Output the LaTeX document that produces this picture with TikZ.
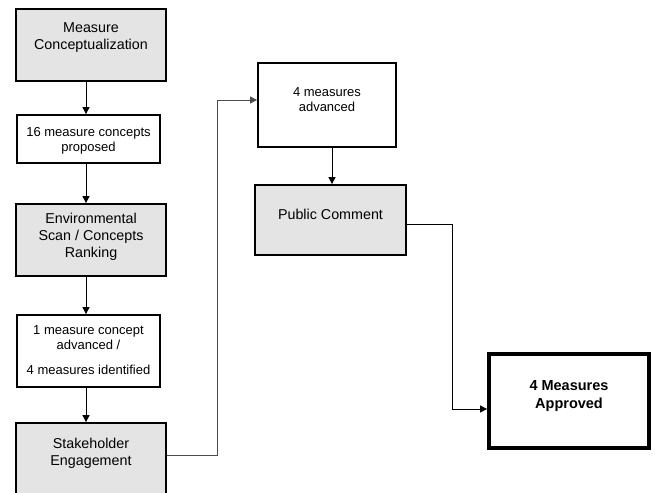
\documentclass[tikz,border=0pt]{standalone}
\usepackage{fontspec}
\setmainfont{Liberation Sans}
\usetikzlibrary{arrows.meta}
\definecolor{boxgray}{HTML}{E4E4E4}
\begin{document}
\begin{tikzpicture}[x=1pt,y=-1pt,
  graybox/.style={draw=black,line width=1.8pt,fill=boxgray,rectangle,inner sep=0pt},
  whitebox/.style={draw=black,line width=1.8pt,fill=white,rectangle,inner sep=0pt},
  bigtxt/.style={font=\fontsize{14.3}{17}\selectfont,align=center,inner sep=0pt},
  smalltxt/.style={font=\fontsize{13}{15}\selectfont,align=center,inner sep=0pt},
  arr/.style={draw=black,line width=0.9pt,-{Triangle[length=7pt,width=7pt]}},
  conn/.style={draw=black!70,line width=0.9pt,-{Triangle[length=7pt,width=7pt]}}]
\useasboundingbox (0,0) rectangle (655,492);
\clip (0,0) rectangle (655,492);
% boxes
\node[graybox,minimum width=150pt,minimum height=72pt] (b1) at (91,45) {};
\node[whitebox,minimum width=143pt,minimum height=48pt] (b2) at (88.5,139) {};
\node[graybox,minimum width=150pt,minimum height=72pt] (b3) at (91,240) {};
\node[whitebox,minimum width=143pt,minimum height=72pt] (b4) at (88.5,351) {};
\node[graybox,minimum width=150pt,minimum height=80pt] (b5) at (91,463) {};
\node[whitebox,minimum width=138pt,minimum height=84pt] (b6) at (327,105) {};
\node[graybox,minimum width=151pt,minimum height=70pt] (b7) at (330.5,220) {};
\node[draw=black,line width=3.8pt,fill=white,rectangle,inner sep=0pt,minimum width=160pt,minimum height=94pt] (b8) at (569,401) {};
% texts
\node[bigtxt] (t1) at (91,38) {Measure\\Conceptualization};
\node[smalltxt] (t2) at (88.5,141) {16 measure concepts\\proposed};
\node[bigtxt] (t3) at (91,237) {Environmental\\Scan / Concepts\\Ranking};
\node[smalltxt] (t4) at (88.5,350) {1 measure concept\\advanced /\\[10pt]4 measures identified};
\node[smalltxt,font=\bfseries\fontsize{14.5}{18}\selectfont] (t8) at (569,396) {4 Measures\\Approved};
\node[bigtxt] (t5) at (91,453) {Stakeholder\\Engagement};
\node[smalltxt] (t6) at (327,100) {4 measures\\advanced};
\node[bigtxt] (t7) at (330.5,214) {Public Comment};
% connectors
\coordinate (xl) at (86,0);
\coordinate (xr) at (332,0);
\draw[arr] (b1.south -| xl) -- (b2.north -| xl);
\draw[arr] (b2.south -| xl) -- (b3.north -| xl);
\draw[arr] (b3.south -| xl) -- (b4.north -| xl);
\draw[arr] (b4.south -| xl) -- (b5.north -| xl);
\draw[arr] (b6.south -| xr) -- (b7.north -| xr);
\coordinate (c1) at (217,455);
\coordinate (c2) at (217,100);
\draw[conn] (b5.east |- c1) -- (c1) -- (c2) -- (b6.west |- c2);
\coordinate (c3) at (452,224);
\coordinate (c4) at (452,409);
\draw[arr] (b7.east |- c3) -- (c3) -- (c4) -- (b8.west |- c4);
\end{tikzpicture}
\end{document}
